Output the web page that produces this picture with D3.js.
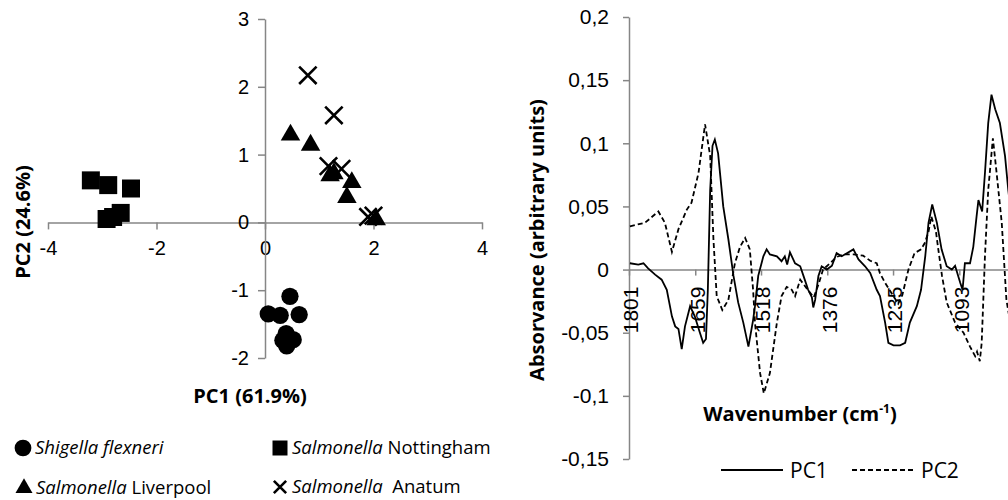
<!DOCTYPE html>
<html>
<head>
<meta charset="utf-8">
<script src="https://cdn.jsdelivr.net/npm/d3@7"></script>
<style>
  body { margin: 0; background: #fff; }
  svg { font-family: "Open Sans", sans-serif; }
  .axis path, .axis line { stroke: #868686; stroke-width: 1.5; }
  .axis text { fill: #000; }
</style>
</head>
<body>
<div id="chart"></div>
<script>

/* PCA scores (left) and loadings (right) */

// scores: [PC1, PC2]

var shigella = [[0.46, -1.09], [0.06, -1.35], [0.28, -1.37], [0.63, -1.36],
                [0.39, -1.64], [0.52, -1.73], [0.33, -1.74], [0.40, -1.82]];
var nottingham = [[-3.21, 0.62], [-2.89, 0.55], [-2.47, 0.50], [-2.92, 0.05],
                  [-2.80, 0.08], [-2.66, 0.14]];
var liverpool = [[0.47, 1.29], [0.84, 1.14], [1.20, 0.69], [1.27, 0.72],
                 [1.60, 0.59], [1.51, 0.37], [2.05, 0.04]];
var anatum = [[0.79, 2.17], [1.27, 1.58], [1.17, 0.83], [1.41, 0.79],
              [1.90, 0.08], [2.00, 0.10]];

var scoreTicksX = [-4, -2, 0, 2, 4],
    scoreTicksY = [-2, -1, 0, 1, 2, 3];

// loadings

var pc1Wave = [1799, 1781, 1770, 1760, 1745, 1731, 1720, 1709, 1702, 1695, 1688, 1681, 1670,
               1660, 1649, 1642, 1636, 1632, 1627, 1622, 1617, 1610, 1599, 1588, 1577, 1567,
               1556, 1545, 1535, 1531, 1524, 1513, 1506, 1499, 1484, 1474, 1467, 1462, 1456,
               1445, 1434, 1427, 1417, 1409, 1406, 1402, 1395, 1388, 1377, 1366, 1356, 1345,
               1334, 1320, 1309, 1295, 1284, 1270, 1263, 1252, 1245, 1234, 1220, 1209, 1199,
               1184, 1175, 1166, 1159, 1151, 1141, 1131, 1120, 1109, 1102, 1091, 1086, 1081,
               1070, 1063, 1056, 1052, 1044, 1038, 1031, 1024, 1016, 1006, 995, 988, 974];
var pc1Vals = [0.005, 0.004, 0.005, 0.001, -0.004, -0.008, -0.016, -0.037, -0.045, -0.047, -0.063, -0.045, -0.029,
               -0.037, -0.050, -0.058, -0.055, -0.016, 0.063, 0.098, 0.103, 0.092, 0.050, 0.024, -0.005, -0.026,
               -0.042, -0.061, -0.040, -0.029, -0.005, 0.0105, 0.016, 0.012, 0.0105, 0.0066, 0.0105, 0.004, 0.0137,
               0.005, 0.0026, -0.005, -0.016, -0.022, -0.030, -0.024, -0.005, 0.0026, 0, 0.003, 0.013, 0.0105,
               0.013, 0.016, 0.008, 0.0026, -0.0026, -0.016, -0.021, -0.042, -0.058, -0.060, -0.060, -0.058, -0.042,
               -0.029, -0.016, 0.0105, 0.037, 0.0515, 0.037, 0.016, 0.0026, 0, 0.003, -0.0105, -0.016, 0.005,
               0.005, 0.018, 0.042, 0.055, 0.046, 0.0765, 0.116, 0.1385, 0.127, 0.116, 0.090, 0.063, 0.02];

var pc2Wave = [1799, 1767, 1738, 1724, 1709, 1695, 1677, 1667, 1652, 1638, 1627, 1620, 1613,
               1601, 1588, 1574, 1563, 1552, 1542, 1535, 1531, 1520, 1512, 1499, 1484, 1474,
               1463, 1452, 1445, 1434, 1420, 1405, 1395, 1385, 1370, 1356, 1340, 1320, 1299,
               1284, 1270, 1263, 1252, 1236, 1224, 1215, 1202, 1189, 1175, 1167, 1159, 1153,
               1143, 1138, 1130, 1120, 1102, 1084, 1070, 1059, 1055, 1049, 1045, 1038, 1031,
               1021, 1013, 1002, 992, 980];
var pc2Vals = [0.0343, 0.037, 0.046, 0.037, 0.014, 0.032, 0.0475, 0.053, 0.0765, 0.115, 0.090, 0.024, -0.021,
               -0.032, -0.024, 0.005, 0.018, 0.025, 0.016, -0.016, -0.042, -0.082, -0.098, -0.082, -0.042, -0.021,
               -0.0137, -0.016, -0.021, -0.008, -0.015, -0.022, -0.012, 0, 0.005, 0.010, 0.012, 0.012, 0.011,
               0.007, 0.005, -0.003, -0.0105, -0.020, -0.027, -0.020, 0, 0.013, 0.016, 0.021, 0.030, 0.042,
               0.030, 0.016, -0.005, -0.026, -0.042, -0.050, -0.061, -0.0686, -0.065, -0.0726, -0.058, 0.0105, 0.063,
               0.104, 0.0765, 0.037, -0.024, -0.05];

var waveTicks = [1801, 1659, 1518, 1376, 1235, 1093],
    absTicks = [-0.15, -0.1, -0.05, 0, 0.05, 0.1, 0.15, 0.2];

// svg

var width = 1008,
    height = 500;

var svg = d3.select("#chart")
  .append("svg")
    .attr("width", width)
    .attr("height", height);

/* ---------- left: scores plot ---------- */

var xL = d3.scaleLinear().domain([-4, 4]).range([48, 482]),
    yL = d3.scaleLinear().domain([-2, 3]).range([358, 19]);

var left = svg.append("g");

left.append("g")
  .attr("class", "axis")
  .attr("transform", "translate(0," + yL(0) + ")")
  .call(d3.axisBottom(xL).tickValues(scoreTicksX).tickSize(7).tickSizeOuter(0)
    .tickPadding(11).tickFormat(function(d) { return String(d); }))
  .selectAll("text")
    .style("font-size", "20px");

left.append("g")
  .attr("class", "axis")
  .attr("transform", "translate(" + xL(0) + ",0)")
  .call(d3.axisLeft(yL).tickValues(scoreTicksY).tickSize(7).tickSizeOuter(0)
    .tickPadding(9).tickFormat(function(d) { return String(d); }))
  .selectAll("text")
    .style("font-size", "20px");

// axis titles

left.append("text")
  .attr("x", 250)
  .attr("y", 403)
  .attr("text-anchor", "middle")
  .style("font-size", "20px")
  .style("font-weight", "bold")
  .text("PC1 (61.9%)");

left.append("text")
  .attr("transform", "translate(30,222) rotate(-90)")
  .attr("text-anchor", "middle")
  .style("font-size", "20px")
  .style("font-weight", "bold")
  .text("PC2 (24.6%)");

// markers

var groups = [
  { data: shigella, shape: d3.symbolCircle, size: 235 },
  { data: nottingham, shape: d3.symbolSquare, size: 324 },
  { data: liverpool, shape: d3.symbolTriangle, size: 165 },
  { data: anatum, shape: d3.symbolTimes, size: 200, stroke: true }
];

groups.forEach(function(g) {
  left.selectAll(null)
    .data(g.data)
    .enter()
    .append("path")
      .attr("transform", function(d) { return "translate(" + xL(d[0]) + "," + yL(d[1]) + ")"; })
      .attr("d", d3.symbol(g.shape, g.size))
      .attr("fill", g.stroke ? "none" : "#000")
      .attr("stroke", g.stroke ? "#000" : "none")
      .attr("stroke-width", 2.6);
});

// legend

var legendItems = [
  { shape: d3.symbolCircle, size: 220, x: 23, y: 448, italic: "Shigella flexneri", rest: "" },
  { shape: d3.symbolSquare, size: 225, x: 280, y: 448, italic: "Salmonella", rest: " Nottingham" },
  { shape: d3.symbolTriangle, size: 125, x: 24, y: 488, italic: "Salmonella", rest: " Liverpool" },
  { shape: d3.symbolTimes, size: 100, x: 280, y: 487, italic: "Salmonella", rest: "  Anatum", stroke: true }
];

var leg = left.selectAll(".leg")
  .data(legendItems)
  .enter()
  .append("g")
    .attr("class", "leg");

leg.append("path")
  .attr("transform", function(d) { return "translate(" + d.x + "," + d.y + ")"; })
  .attr("d", function(d) { return d3.symbol(d.shape, d.size)(); })
  .attr("fill", function(d) { return d.stroke ? "none" : "#000"; })
  .attr("stroke", function(d) { return d.stroke ? "#000" : "none"; })
  .attr("stroke-width", 2.6);

var legText = leg.append("text")
  .attr("x", function(d) { return d.x + 12; })
  .attr("y", function(d) { return d.y + 6; })
  .style("font-size", "18.5px")
  .style("white-space", "pre");

legText.append("tspan")
  .style("font-style", "italic")
  .text(function(d) { return d.italic; });

legText.append("tspan")
  .text(function(d) { return d.rest; });

/* ---------- right: loadings ---------- */

var xR = d3.scaleLinear().domain([1801, 988.6]).range([629, 1008]),
    yR = d3.scaleLinear().domain([-0.15, 0.2]).range([459, 17]);

var right = svg.append("g");

right.append("clipPath")
  .attr("id", "clip")
  .append("rect")
    .attr("x", 629)
    .attr("y", 0)
    .attr("width", width - 629)
    .attr("height", height);

right.append("g")
  .attr("class", "axis")
  .attr("transform", "translate(" + xR(1801) + ",0)")
  .call(d3.axisLeft(yR).tickValues(absTicks).tickSize(6).tickSizeOuter(0)
    .tickPadding(14).tickFormat(function(d) { return String(d).replace(".", ","); }))
  .selectAll("text")
    .style("font-size", "21px");

right.append("g")
  .attr("class", "axis")
  .attr("transform", "translate(0," + yR(0) + ")")
  .call(d3.axisBottom(xR).tickValues(waveTicks).tickSize(6).tickSizeOuter(0)
    .tickFormat(function(d) { return String(d); }))
  .selectAll("text")
    .attr("transform", "rotate(-90)")
    .attr("x", -17)
    .attr("y", 0)
    .attr("dy", "0.42em")
    .style("text-anchor", "end")
    .style("font-size", "21px");

// lines

var line = d3.line()
  .x(function(d) { return xR(d[0]); })
  .y(function(d) { return yR(d[1]); });

var pc1 = d3.zip(pc1Wave, pc1Vals),
    pc2 = d3.zip(pc2Wave, pc2Vals);

right.append("path")
  .datum(pc2)
  .attr("clip-path", "url(#clip)")
  .attr("d", line)
  .attr("fill", "none")
  .attr("stroke", "#000")
  .attr("stroke-width", 1.8)
  .attr("stroke-dasharray", "5,3");

right.append("path")
  .datum(pc1)
  .attr("clip-path", "url(#clip)")
  .attr("d", line)
  .attr("fill", "none")
  .attr("stroke", "#000")
  .attr("stroke-width", 1.8);

// axis titles

right.append("text")
  .attr("transform", "translate(544,240) rotate(-90)")
  .attr("text-anchor", "middle")
  .style("font-size", "20px")
  .style("font-weight", "bold")
  .text("Absorvance (arbitrary units)");

var wTitle = right.append("text")
  .attr("x", 800)
  .attr("y", 421)
  .attr("text-anchor", "middle")
  .style("font-size", "20px")
  .style("font-weight", "bold");

wTitle.append("tspan").text("Wavenumber (cm");
wTitle.append("tspan").attr("dy", -8).style("font-size", "12px").text("-1");
wTitle.append("tspan").attr("dy", 8).text(")");

// legend

var lineLegend = [
  { name: "PC1", x: 721, dash: null },
  { name: "PC2", x: 852, dash: "5,3" }
];

var lg = right.selectAll(".lineleg")
  .data(lineLegend)
  .enter()
  .append("g")
    .attr("class", "lineleg");

lg.append("line")
  .attr("x1", function(d) { return d.x; })
  .attr("x2", function(d) { return d.x + 62; })
  .attr("y1", 470)
  .attr("y2", 470)
  .attr("stroke", "#000")
  .attr("stroke-width", 1.8)
  .attr("stroke-dasharray", function(d) { return d.dash; });

lg.append("text")
  .attr("x", function(d) { return d.x + 69; })
  .attr("y", 478)
  .style("font-size", "21px")
  .text(function(d) { return d.name; });

</script>
</body>
</html>
